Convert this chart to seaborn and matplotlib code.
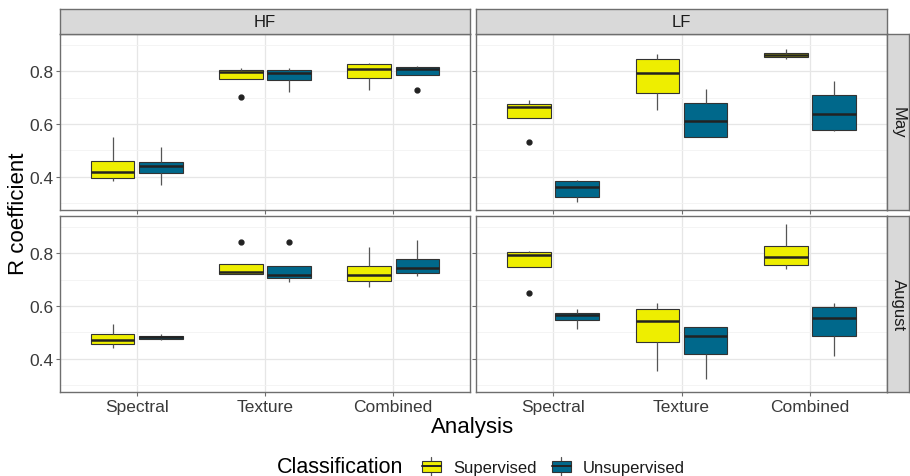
import numpy as np
import pandas as pd
import seaborn as sns
import matplotlib
matplotlib.use("Agg")
import matplotlib.pyplot as plt
from matplotlib.patches import Patch, Rectangle
from matplotlib.lines import Line2D
from matplotlib.legend_handler import HandlerBase

# ---- data -------------------------------------------------------------
analyses = ["Spectral", "Texture", "Combined"]
classes = ["Supervised", "Unsupervised"]
bands = ["HF", "LF"]
months = ["May", "August"]
y_ticks = [0.4, 0.6, 0.8]

# R coefficients per analysis (Spectral, Texture, Combined)
hf_may_sup = [
    [0.384, 0.396, 0.417, 0.461, 0.550],
    [0.702, 0.770, 0.770, 0.785, 0.798, 0.800, 0.803, 0.808, 0.813],
    [0.730, 0.775, 0.809, 0.826, 0.832],
]
hf_may_unsup = [
    [0.371, 0.414, 0.440, 0.457, 0.512],
    [0.722, 0.765, 0.794, 0.803, 0.813],
    [0.729, 0.784, 0.784, 0.795, 0.808, 0.810, 0.815, 0.818, 0.820],
]
lf_may_sup = [
    [0.530, 0.621, 0.621, 0.640, 0.663, 0.668, 0.674, 0.683, 0.692],
    [0.653, 0.718, 0.794, 0.846, 0.864],
    [0.845, 0.853, 0.862, 0.869, 0.884],
]
lf_may_unsup = [
    [0.305, 0.323, 0.360, 0.385, 0.390],
    [0.549, 0.549, 0.610, 0.678, 0.731],
    [0.573, 0.579, 0.636, 0.709, 0.762],
]
hf_aug_sup = [
    [0.440, 0.456, 0.473, 0.494, 0.533],
    [0.720, 0.720, 0.720, 0.725, 0.729, 0.740, 0.758, 0.758, 0.841],
    [0.673, 0.694, 0.716, 0.753, 0.822],
]
hf_aug_unsup = [
    [0.473, 0.476, 0.481, 0.487, 0.494],
    [0.692, 0.700, 0.705, 0.710, 0.718, 0.735, 0.751, 0.751, 0.841],
    [0.714, 0.726, 0.742, 0.777, 0.850],
]
lf_aug_sup = [
    [0.649, 0.748, 0.748, 0.770, 0.792, 0.800, 0.804, 0.806, 0.809],
    [0.354, 0.464, 0.543, 0.590, 0.611],
    [0.741, 0.754, 0.784, 0.828, 0.910],
]
lf_aug_unsup = [
    [0.513, 0.547, 0.567, 0.574, 0.590],
    [0.324, 0.419, 0.488, 0.520, 0.520],
    [0.412, 0.486, 0.553, 0.595, 0.611],
]

groups = {
    ("May", "HF"): (hf_may_sup, hf_may_unsup),
    ("May", "LF"): (lf_may_sup, lf_may_unsup),
    ("August", "HF"): (hf_aug_sup, hf_aug_unsup),
    ("August", "LF"): (lf_aug_sup, lf_aug_unsup),
}

rows = []
for (month, band), series in groups.items():
    for cls, per_analysis in zip(classes, series):
        for analysis, values in zip(analyses, per_analysis):
            for v in values:
                rows.append(dict(Month=month, Band=band, Analysis=analysis,
                                 Classification=cls, R=v))
df = pd.DataFrame(rows)

# ---- style ------------------------------------------------------------
sns.set_theme(style="white")
plt.rcParams["font.family"] = ["Liberation Sans", "DejaVu Sans"]

palette = {"Supervised": "#EEEE00", "Unsupervised": "#00688B"}
edge = "#333333"
grid_major = "#E6E6E6"
grid_minor = "#F2F2F2"
border = "#6E6E6E"
strip_bg = "#D9D9D9"
tick_size = 12.5

W, H = 910, 477
fig = plt.figure(figsize=(W / 100, H / 100), dpi=100)


def fx(px):
    return px / W


def fy(py):
    return 1 - py / H


col_x = [(60, 470), (476, 887)]
row_y = [(35, 211), (217, 393)]

lo, hi = df["R"].min(), df["R"].max()
pad = (hi - lo) * 0.05
ylim = (lo - pad, hi + pad)

for ri, month in enumerate(months):
    for ci, band in enumerate(bands):
        x0, x1 = col_x[ci]
        y0, y1 = row_y[ri]
        ax = fig.add_axes([fx(x0), fy(y1), fx(x1 - x0), (y1 - y0) / H])
        sub = df[(df.Month == month) & (df.Band == band)]
        ax.set_axisbelow(True)
        sns.boxplot(
            data=sub, x="Analysis", y="R", hue="Classification",
            order=analyses, hue_order=classes, palette=palette,
            width=0.75, gap=0.1, linecolor=edge, linewidth=0.8,
            whis=1.5, saturation=1,
            medianprops=dict(color="#222222", linewidth=1.8),
            whiskerprops=dict(color="#555555", linewidth=0.9),
            capprops=dict(linewidth=0),
            flierprops=dict(marker="o", markerfacecolor="#222222",
                            markeredgecolor="#222222", markersize=3.5),
            legend=False, ax=ax,
        )
        ax.set_xlim(-0.6, 2.6)
        ax.set_ylim(*ylim)
        ax.set_yticks(y_ticks)
        ax.set_yticks([0.3, 0.5, 0.7, 0.9], minor=True)
        ax.grid(True, which="major", color=grid_major, linewidth=0.9)
        ax.grid(True, which="minor", axis="y", color=grid_minor, linewidth=0.6)
        ax.set_xlabel("")
        ax.set_ylabel("")
        for s in ax.spines.values():
            s.set_color(border)
            s.set_linewidth(1.0)
        ax.tick_params(axis="both", which="major", length=3, width=0.8,
                       color=border, labelsize=tick_size,
                       labelcolor="#3A3A3A", pad=2)
        ax.tick_params(axis="y", which="minor", length=0)
        ax.tick_params(bottom=True, left=True)
        if ci != 0:
            ax.set_yticklabels([])
        if ri != len(months) - 1:
            ax.set_xticklabels([])

        # right-hand strip with the month name
        if ci == len(bands) - 1:
            sax = fig.add_axes([fx(887), fy(y1), fx(909 - 887), (y1 - y0) / H])
            sax.set_facecolor(strip_bg)
            sax.set_xticks([]); sax.set_yticks([])
            for s in sax.spines.values():
                s.set_color(border); s.set_linewidth(1.0)
            sax.text(0.5, 0.5, month, rotation=-90, ha="center", va="center",
                     fontsize=12, color="#1A1A1A", transform=sax.transAxes)

# top strips
for ci, band in enumerate(bands):
    x0, x1 = col_x[ci]
    sax = fig.add_axes([fx(x0), fy(35), fx(x1 - x0), 25 / H])
    sax.set_facecolor(strip_bg)
    sax.set_xticks([]); sax.set_yticks([])
    for s in sax.spines.values():
        s.set_color(border); s.set_linewidth(1.0)
    sax.text(0.5, 0.5, band, ha="center", va="center", fontsize=12,
             color="#1A1A1A", transform=sax.transAxes)

# axis titles
fig.text(fx(19), fy(214), "R coefficient", rotation=90, ha="center",
         va="center", fontsize=16, color="black")
fig.text(fx(473), fy(428), "Analysis", ha="center", va="center",
         fontsize=16, color="black")


# ---- legend with boxplot-style keys -----------------------------------
class BoxKey(HandlerBase):
    def create_artists(self, legend, orig_handle, xdescent, ydescent,
                       width, height, fontsize, trans):
        x0, y0 = -xdescent, -ydescent
        cx = x0 + width / 2
        whisk = Line2D([cx, cx], [y0 - 0.15 * height, y0 + 1.15 * height],
                       color="#555555", linewidth=0.9, transform=trans)
        box = Rectangle((x0 + 0.1 * width, y0 + 0.12 * height),
                        0.8 * width, 0.76 * height,
                        facecolor=orig_handle.get_facecolor(),
                        edgecolor=edge, linewidth=0.8, transform=trans)
        med = Line2D([x0 + 0.1 * width, x0 + 0.9 * width],
                     [y0 + 0.5 * height] * 2, color="#222222",
                     linewidth=1.4, transform=trans)
        return [whisk, box, med]


handles = [Patch(facecolor=palette[c], edgecolor=edge) for c in classes]
fig.text(fx(277), fy(468), "Classification", ha="left", va="center",
         fontsize=15.5, color="black")
leg = fig.legend(handles, classes, loc="center left",
                 bbox_to_anchor=(fx(408), fy(468)), ncol=2, frameon=False,
                 handler_map={Patch: BoxKey()}, handlelength=1.4,
                 handleheight=1.0, handletextpad=0.6, columnspacing=0.8,
                 fontsize=12, borderpad=0.2)
for t in leg.get_texts():
    t.set_color("#1A1A1A")

fig.savefig("out.png", dpi=100, facecolor="white")
